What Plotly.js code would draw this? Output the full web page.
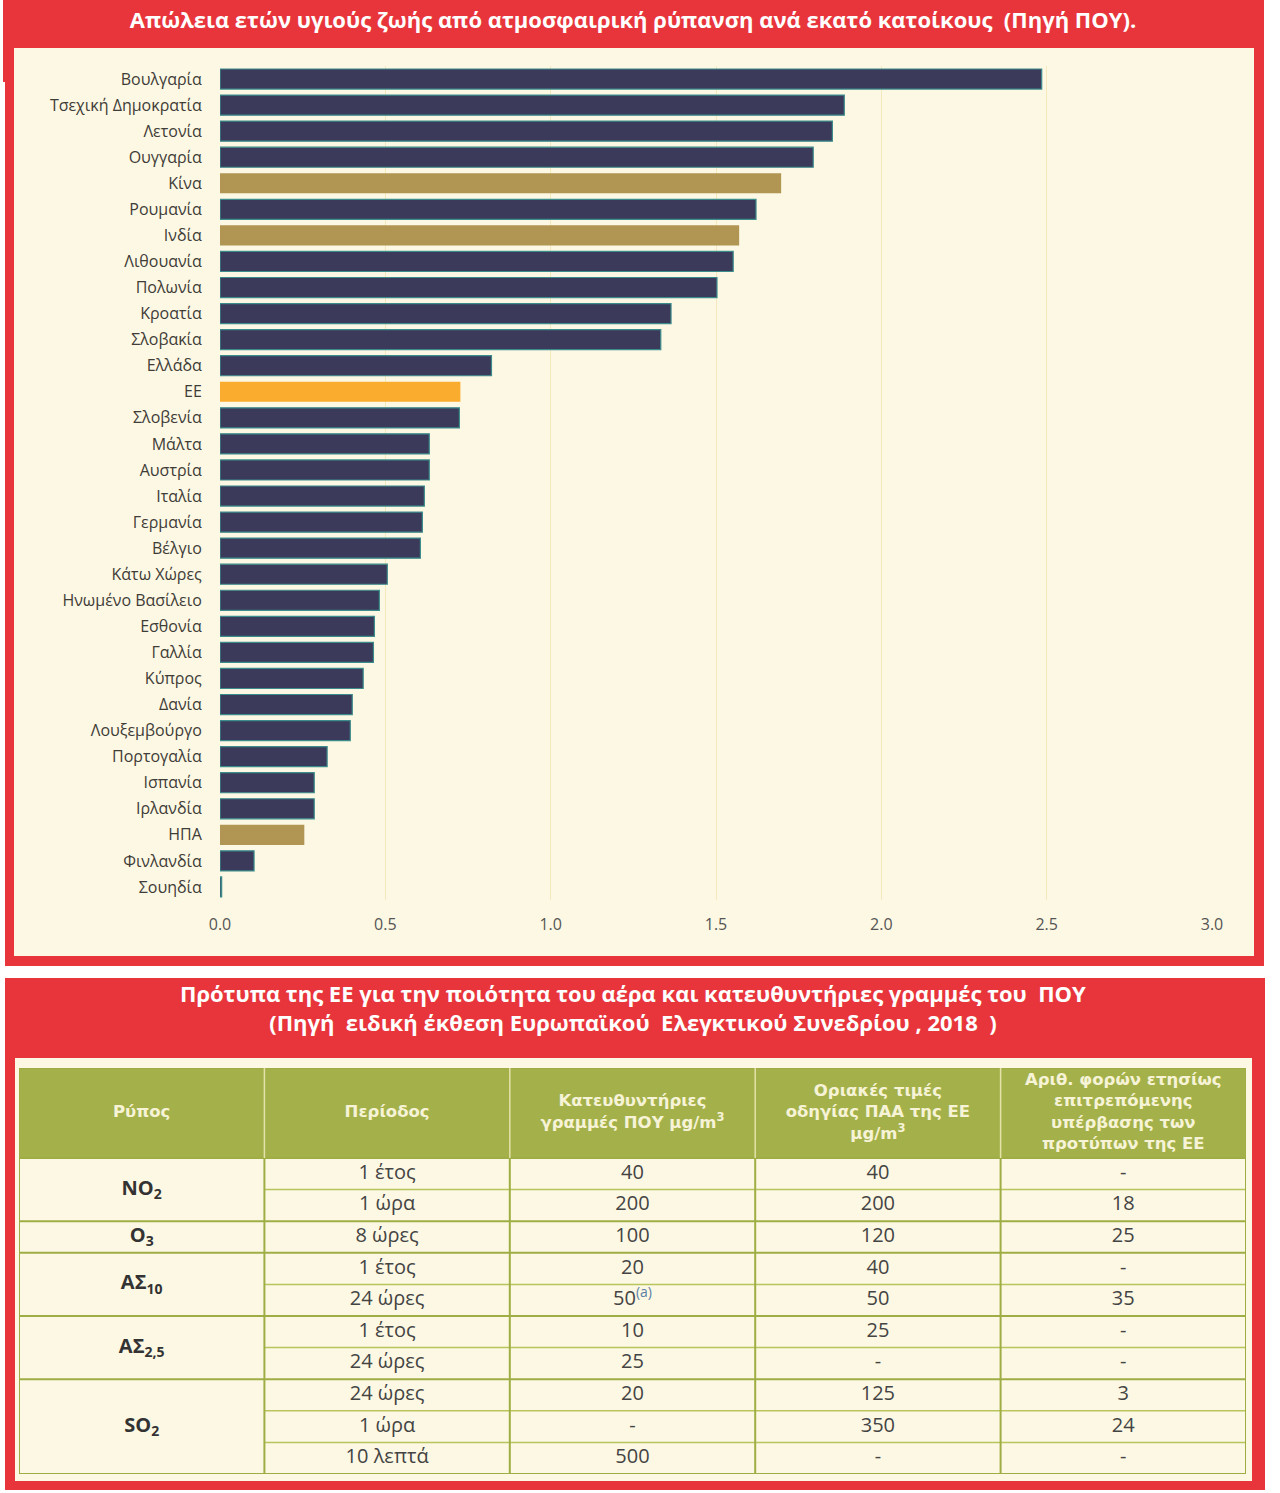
<!DOCTYPE html>
<html>
<head>
<meta charset="utf-8">
<script src="https://cdn.plot.ly/plotly-3.0.1.min.js"></script>
<style>
html,body{margin:0;padding:0;background:#ffffff;}
#chart{width:1280px;height:1493px;}
</style>
</head>
<body>
<div id="chart"></div>
<script>
// ---------- DATA ----------
const countries = ['Βουλγαρία','Τσεχική Δημοκρατία','Λετονία','Ουγγαρία','Κίνα','Ρουμανία','Ινδία','Λιθουανία','Πολωνία','Κροατία','Σλοβακία','Ελλάδα','ΕΕ','Σλοβενία','Μάλτα','Αυστρία','Ιταλία','Γερμανία','Βέλγιο','Κάτω Χώρες','Ηνωμένο Βασίλειο','Εσθονία','Γαλλία','Κύπρος','Δανία','Λουξεμβούργο','Πορτογαλία','Ισπανία','Ιρλανδία','ΗΠΑ','Φινλανδία','Σουηδία'];
const values = [2.485,1.888,1.852,1.794,1.697,1.621,1.570,1.552,1.503,1.364,1.333,0.821,0.727,0.724,0.633,0.633,0.618,0.612,0.606,0.506,0.482,0.467,0.464,0.433,0.400,0.394,0.324,0.285,0.285,0.255,0.103,0.005];
const kinds = ['m','m','m','m','x','m','x','m','m','m','m','m','eu','m','m','m','m','m','m','m','m','m','m','m','m','m','m','m','m','x','m','m'];
const xTicks = [0,0.5,1.0,1.5,2.0,2.5,3.0];

const tableHeaders = ['Ρύπος','Περίοδος','Κατευθυντήριες<br>γραμμές ΠΟΥ μg/m<sup>3</sup>','Οριακές τιμές<br>οδηγίας ΠΑΑ της ΕΕ<br>μg/m<sup>3</sup>','Αριθ. φορών ετησίως<br>επιτρεπόμενης<br>υπέρβασης των<br>προτύπων της ΕΕ'];
const pollutants = ['NO<sub>2</sub>','O<sub>3</sub>','ΑΣ<sub>10</sub>','ΑΣ<sub>2,5</sub>','SO<sub>2</sub>'];
const pollutantRows = [2,1,2,2,3];
const periods = ['1 έτος','1 ώρα','8 ώρες','1 έτος','24 ώρες','1 έτος','24 ώρες','24 ώρες','1 ώρα','10 λεπτά'];
const whoGuide = ['40','200','100','20','50<sup><span style="color:#5a7fa6">(a)</span></sup>','10','25','20','-','500'];
const euLimit = ['40','200','120','40','50','25','-','125','350','-'];
const exceed = ['-','18','25','-','35','-','-','3','24','-'];

// ---------- STYLE ----------
const W = 1280, H = 1493;
const RED = '#e8353b', CREAM = '#fdf8e3';
const kindColor = {m:'#3b3a5a', x:'#b09553', eu:'#f9ac2e'};
const kindLine = {m:'#3d8c8c', x:'rgba(0,0,0,0)', eu:'rgba(0,0,0,0)'};
const px = v => v / W;
const py = v => 1 - v / H;
const HDR = 90 / 31.6;      // header height in row units
const nRows = periods.length;

// ---------- BAR TRACE ----------
const barTrace = {
  type: 'bar', orientation: 'h',
  x: values, y: countries,
  marker: {
    color: kinds.map(k => kindColor[k]),
    line: {color: kinds.map(k => kindLine[k]), width: 1.2}
  },
  hoverinfo: 'x+y',
  xaxis: 'x', yaxis: 'y'
};

// ---------- TABLE TRACES ----------
const cx = c => c + 0.5;
const rowY = r => r + 0.5;
const headerTrace = {
  type: 'scatter', mode: 'text', xaxis: 'x2', yaxis: 'y2',
  x: tableHeaders.map((_, i) => cx(i)),
  y: tableHeaders.map(() => -HDR / 2),
  text: tableHeaders.map(t => '<b>' + t + '</b>'),
  textfont: {family: 'DejaVu Sans, sans-serif', size: 16.5, color: '#f6f3d6'},
  hoverinfo: 'skip'
};
let startRows = [];
let acc = 0;
pollutantRows.forEach(n => { startRows.push(acc); acc += n; });
const pollTrace = {
  type: 'scatter', mode: 'text', xaxis: 'x2', yaxis: 'y2',
  x: pollutants.map(() => cx(0)),
  y: pollutants.map((_, i) => startRows[i] + pollutantRows[i] / 2),
  text: pollutants.map(t => '<b>' + t + '</b>'),
  textfont: {family: 'Open Sans, sans-serif', size: 20, color: '#333333'},
  hoverinfo: 'skip'
};
function colTrace(arr, c) {
  return {
    type: 'scatter', mode: 'text', xaxis: 'x2', yaxis: 'y2',
    x: arr.map(() => cx(c)),
    y: arr.map((_, i) => rowY(i)),
    text: arr,
    textfont: {family: 'Open Sans, sans-serif', size: 20, color: '#444444'},
    hoverinfo: 'skip'
  };
}
const traces = [barTrace, headerTrace, pollTrace,
  colTrace(periods, 1), colTrace(whoGuide, 2), colTrace(euLimit, 3), colTrace(exceed, 4)];

// ---------- SHAPES ----------
const shapes = [];
// page frames
shapes.push({type:'rect', xref:'paper', yref:'paper', x0:px(5), x1:px(1264), y0:py(966), y1:py(0), fillcolor:RED, line:{width:0}, layer:'below'});
shapes.push({type:'rect', xref:'paper', yref:'paper', x0:px(3), x1:px(14), y0:py(82), y1:py(0), fillcolor:RED, line:{width:0}, layer:'below'});
shapes.push({type:'rect', xref:'paper', yref:'paper', x0:px(14), x1:px(1254), y0:py(956), y1:py(48), fillcolor:CREAM, line:{width:0}, layer:'below'});
shapes.push({type:'rect', xref:'paper', yref:'paper', x0:px(5), x1:px(1265), y0:py(1490), y1:py(978), fillcolor:RED, line:{width:0}, layer:'below'});
shapes.push({type:'rect', xref:'paper', yref:'paper', x0:px(15), x1:px(1252), y0:py(1481), y1:py(1058), fillcolor:CREAM, line:{width:0}, layer:'below'});
// table header fill
shapes.push({type:'rect', xref:'x2', yref:'y2', x0:0, x1:5, y0:-HDR, y1:0, fillcolor:'#a4b14b', line:{width:0}, layer:'below'});
// horizontal lines
const groupBounds = [0].concat(startRows.slice(1), [nRows]);
for (let r = 1; r < nRows; r++) {
  if (startRows.includes(r)) continue;
  shapes.push({type:'line', xref:'x2', yref:'y2', x0:1, x1:5, y0:r, y1:r, line:{color:'#b8c45c', width:1.5}});
}
groupBounds.forEach(r => {
  shapes.push({type:'line', xref:'x2', yref:'y2', x0:0, x1:5, y0:r, y1:r, line:{color:'#9fae44', width:2}});
});
shapes.push({type:'line', xref:'x2', yref:'y2', x0:0, x1:5, y0:-HDR, y1:-HDR, line:{color:'#9fae44', width:2}});
// vertical lines
for (let c = 0; c <= 5; c++) {
  shapes.push({type:'line', xref:'x2', yref:'y2', x0:c, x1:c, y0:0, y1:nRows, line:{color:'#9fae44', width:2}});
  shapes.push({type:'line', xref:'x2', yref:'y2', x0:c, x1:c, y0:-HDR, y1:0, line:{color:(c===0||c===5)?'#9fae44':'#e4e2a8', width:1.5}});
}

// ---------- ANNOTATIONS ----------
const annotations = [
  {xref:'paper', yref:'paper', x:px(633), y:py(1007), xanchor:'center', yanchor:'middle', showarrow:false,
   text:'<b>Πρότυπα της ΕΕ για την ποιότητα του αέρα και κατευθυντήριες γραμμές του  ΠΟΥ<br>(Πηγή  ειδική έκθεση Ευρωπαϊκού  Ελεγκτικού Συνεδρίου , 2018  )</b>',
   font:{family:'Open Sans, sans-serif', size:22, color:'#ffffff'}}
];

// ---------- LAYOUT ----------
const layout = {
  width: W, height: H,
  margin: {l:0, r:0, t:0, b:0, pad:0},
  paper_bgcolor: 'rgba(0,0,0,0)',
  plot_bgcolor: 'rgba(0,0,0,0)',
  showlegend: false,
  bargap: 0.23,
  title: {
    text: '<b>Απώλεια ετών υγιούς ζωής από ατμοσφαιρική ρύπανση ανά εκατό κατοίκους  (Πηγή ΠΟΥ).</b>',
    font: {family:'Open Sans, sans-serif', size:22, color:'#ffffff'},
    xref:'paper', x: px(633), xanchor:'center',
    yref:'container', y: py(20), yanchor:'middle'
  },
  xaxis: {
    domain: [px(220), px(1212)], anchor:'y',
    range: [0, 3.0], tickvals: xTicks, tickformat: '.1f',
    showgrid: true, gridcolor: '#f5e8bd', gridwidth: 1,
    zeroline: false, showline: false,
    ticks: 'outside', ticklen: 10, tickcolor: 'rgba(0,0,0,0)',
    tickfont: {family:'Open Sans, sans-serif', size:16, color:'#555555'},
    fixedrange: true
  },
  yaxis: {
    domain: [py(900), py(66)], anchor:'x',
    type: 'category', autorange: 'reversed',
    showgrid: false, zeroline: false, showline: false,
    ticks: 'outside', ticklen: 14, tickcolor: 'rgba(0,0,0,0)',
    tickfont: {family:'Open Sans, sans-serif', size:16, color:'#403c38'},
    fixedrange: true
  },
  xaxis2: {
    domain: [px(19), px(1246)], anchor:'y2', range:[0,5],
    visible: false, fixedrange: true
  },
  yaxis2: {
    domain: [py(1474), py(1068)], anchor:'x2', range:[nRows, -HDR],
    visible: false, fixedrange: true
  },
  shapes: shapes,
  annotations: annotations
};

Plotly.newPlot('chart', traces, layout, {displayModeBar:false, staticPlot:true});
</script>
</body>
</html>
